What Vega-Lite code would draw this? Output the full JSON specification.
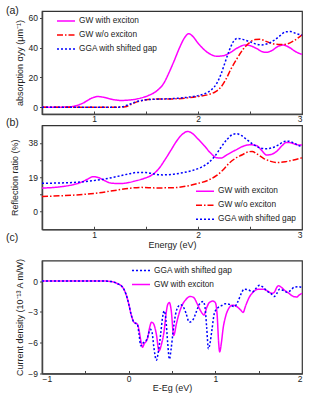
{
  "$schema": "https://vega.github.io/schema/vega-lite/v6.json",
  "background": "white",
  "padding": 5,
  "spacing": -18.75,
  "datasets": {
    "a": [
      {"s":"GW with exciton","E":0.5,"V":0},{"s":"GW with exciton","E":0.7,"V":0.1},{"s":"GW with exciton","E":0.8,"V":0.6},{"s":"GW with exciton","E":0.9,"V":3},{"s":"GW with exciton","E":0.98,"V":6.2},{"s":"GW with exciton","E":1.04,"V":7.2},{"s":"GW with exciton","E":1.1,"V":6.6},{"s":"GW with exciton","E":1.18,"V":5.2},{"s":"GW with exciton","E":1.26,"V":4.6},{"s":"GW with exciton","E":1.36,"V":5},{"s":"GW with exciton","E":1.45,"V":6.2},{"s":"GW with exciton","E":1.52,"V":7.8},{"s":"GW with exciton","E":1.6,"V":10.8},{"s":"GW with exciton","E":1.67,"V":16},{"s":"GW with exciton","E":1.72,"V":23},{"s":"GW with exciton","E":1.77,"V":31},{"s":"GW with exciton","E":1.82,"V":39.5},{"s":"GW with exciton","E":1.87,"V":46.5},{"s":"GW with exciton","E":1.91,"V":49.3},{"s":"GW with exciton","E":1.95,"V":47.5},{"s":"GW with exciton","E":2.0,"V":43},{"s":"GW with exciton","E":2.06,"V":38.5},{"s":"GW with exciton","E":2.12,"V":35.5},{"s":"GW with exciton","E":2.18,"V":34.2},{"s":"GW with exciton","E":2.24,"V":34.5},{"s":"GW with exciton","E":2.3,"V":36.2},{"s":"GW with exciton","E":2.38,"V":39.8},{"s":"GW with exciton","E":2.45,"V":41.7},{"s":"GW with exciton","E":2.5,"V":41.3},{"s":"GW with exciton","E":2.56,"V":39.5},{"s":"GW with exciton","E":2.62,"V":37.2},{"s":"GW with exciton","E":2.66,"V":36.8},{"s":"GW with exciton","E":2.71,"V":38},{"s":"GW with exciton","E":2.77,"V":40.8},{"s":"GW with exciton","E":2.82,"V":41.7},{"s":"GW with exciton","E":2.88,"V":40},{"s":"GW with exciton","E":2.94,"V":37.2},{"s":"GW with exciton","E":3.0,"V":35.5},
      {"s":"GW w/o exciton","E":0.5,"V":0},{"s":"GW w/o exciton","E":1.2,"V":0},{"s":"GW w/o exciton","E":1.3,"V":0.4},{"s":"GW w/o exciton","E":1.36,"V":2},{"s":"GW w/o exciton","E":1.42,"V":3.8},{"s":"GW w/o exciton","E":1.5,"V":5},{"s":"GW w/o exciton","E":1.6,"V":5.5},{"s":"GW w/o exciton","E":1.75,"V":5.6},{"s":"GW w/o exciton","E":1.9,"V":6.3},{"s":"GW w/o exciton","E":2.0,"V":7.2},{"s":"GW w/o exciton","E":2.1,"V":8.5},{"s":"GW w/o exciton","E":2.17,"V":10.5},{"s":"GW w/o exciton","E":2.22,"V":13.5},{"s":"GW w/o exciton","E":2.27,"V":19},{"s":"GW w/o exciton","E":2.32,"V":26},{"s":"GW w/o exciton","E":2.37,"V":32},{"s":"GW w/o exciton","E":2.43,"V":38.5},{"s":"GW w/o exciton","E":2.49,"V":43},{"s":"GW w/o exciton","E":2.55,"V":45.4},{"s":"GW w/o exciton","E":2.6,"V":45.5},{"s":"GW w/o exciton","E":2.66,"V":44},{"s":"GW w/o exciton","E":2.72,"V":42.5},{"s":"GW w/o exciton","E":2.8,"V":42},{"s":"GW w/o exciton","E":2.86,"V":42.5},{"s":"GW w/o exciton","E":2.92,"V":44.5},{"s":"GW w/o exciton","E":3.0,"V":48.5},
      {"s":"GGA with shifted gap","E":0.5,"V":0},{"s":"GGA with shifted gap","E":1.2,"V":0},{"s":"GGA with shifted gap","E":1.27,"V":0.3},{"s":"GGA with shifted gap","E":1.34,"V":2},{"s":"GGA with shifted gap","E":1.42,"V":4},{"s":"GGA with shifted gap","E":1.5,"V":5},{"s":"GGA with shifted gap","E":1.6,"V":5.4},{"s":"GGA with shifted gap","E":1.75,"V":5.8},{"s":"GGA with shifted gap","E":1.9,"V":6.7},{"s":"GGA with shifted gap","E":2.0,"V":7.8},{"s":"GGA with shifted gap","E":2.07,"V":9.2},{"s":"GGA with shifted gap","E":2.13,"V":11.8},{"s":"GGA with shifted gap","E":2.18,"V":16},{"s":"GGA with shifted gap","E":2.22,"V":22},{"s":"GGA with shifted gap","E":2.26,"V":30},{"s":"GGA with shifted gap","E":2.3,"V":38},{"s":"GGA with shifted gap","E":2.34,"V":44},{"s":"GGA with shifted gap","E":2.38,"V":46.2},{"s":"GGA with shifted gap","E":2.43,"V":45.5},{"s":"GGA with shifted gap","E":2.5,"V":43.8},{"s":"GGA with shifted gap","E":2.56,"V":42.3},{"s":"GGA with shifted gap","E":2.61,"V":41.8},{"s":"GGA with shifted gap","E":2.67,"V":42.6},{"s":"GGA with shifted gap","E":2.73,"V":44.8},{"s":"GGA with shifted gap","E":2.79,"V":48},{"s":"GGA with shifted gap","E":2.84,"V":50.5},{"s":"GGA with shifted gap","E":2.89,"V":50.7},{"s":"GGA with shifted gap","E":2.94,"V":49.5},{"s":"GGA with shifted gap","E":3.0,"V":48.3}
    ],
    "b": [
      {"s":"GW with exciton","E":0.5,"V":13},{"s":"GW with exciton","E":0.6,"V":13.3},{"s":"GW with exciton","E":0.7,"V":13.9},{"s":"GW with exciton","E":0.8,"V":14.9},{"s":"GW with exciton","E":0.88,"V":16.3},{"s":"GW with exciton","E":0.94,"V":18},{"s":"GW with exciton","E":0.99,"V":19.3},{"s":"GW with exciton","E":1.04,"V":18.9},{"s":"GW with exciton","E":1.1,"V":17.2},{"s":"GW with exciton","E":1.16,"V":15.8},{"s":"GW with exciton","E":1.24,"V":15.5},{"s":"GW with exciton","E":1.32,"V":15.9},{"s":"GW with exciton","E":1.4,"V":17},{"s":"GW with exciton","E":1.48,"V":18.3},{"s":"GW with exciton","E":1.55,"V":20},{"s":"GW with exciton","E":1.62,"V":23.5},{"s":"GW with exciton","E":1.68,"V":28.5},{"s":"GW with exciton","E":1.74,"V":34},{"s":"GW with exciton","E":1.8,"V":39.5},{"s":"GW with exciton","E":1.86,"V":43.3},{"s":"GW with exciton","E":1.9,"V":44.4},{"s":"GW with exciton","E":1.94,"V":43.5},{"s":"GW with exciton","E":2.0,"V":40.2},{"s":"GW with exciton","E":2.06,"V":36.5},{"s":"GW with exciton","E":2.12,"V":32.5},{"s":"GW with exciton","E":2.18,"V":29.8},{"s":"GW with exciton","E":2.22,"V":29.6},{"s":"GW with exciton","E":2.28,"V":31.5},{"s":"GW with exciton","E":2.36,"V":34},{"s":"GW with exciton","E":2.44,"V":36.3},{"s":"GW with exciton","E":2.5,"V":37},{"s":"GW with exciton","E":2.56,"V":36.6},{"s":"GW with exciton","E":2.61,"V":34},{"s":"GW with exciton","E":2.66,"V":31.3},{"s":"GW with exciton","E":2.7,"V":31.6},{"s":"GW with exciton","E":2.76,"V":33.5},{"s":"GW with exciton","E":2.81,"V":36.6},{"s":"GW with exciton","E":2.85,"V":38.3},{"s":"GW with exciton","E":2.9,"V":38},{"s":"GW with exciton","E":2.95,"V":37},{"s":"GW with exciton","E":3.0,"V":36.8},
      {"s":"GW w/o exciton","E":0.5,"V":8.3},{"s":"GW w/o exciton","E":0.7,"V":8.8},{"s":"GW w/o exciton","E":0.9,"V":9.5},{"s":"GW w/o exciton","E":1.05,"V":10.4},{"s":"GW w/o exciton","E":1.2,"V":11.7},{"s":"GW w/o exciton","E":1.33,"V":12.8},{"s":"GW w/o exciton","E":1.45,"V":13.4},{"s":"GW w/o exciton","E":1.6,"V":13.1},{"s":"GW w/o exciton","E":1.75,"V":13.2},{"s":"GW w/o exciton","E":1.9,"V":14.2},{"s":"GW w/o exciton","E":2.0,"V":15.6},{"s":"GW w/o exciton","E":2.1,"V":17.4},{"s":"GW w/o exciton","E":2.18,"V":20},{"s":"GW w/o exciton","E":2.24,"V":23},{"s":"GW w/o exciton","E":2.3,"V":26.8},{"s":"GW w/o exciton","E":2.36,"V":29.5},{"s":"GW w/o exciton","E":2.42,"V":31.3},{"s":"GW w/o exciton","E":2.48,"V":33},{"s":"GW w/o exciton","E":2.52,"V":33.3},{"s":"GW w/o exciton","E":2.57,"V":31.8},{"s":"GW w/o exciton","E":2.63,"V":29.5},{"s":"GW w/o exciton","E":2.7,"V":27.8},{"s":"GW w/o exciton","E":2.76,"V":27.1},{"s":"GW w/o exciton","E":2.84,"V":27.6},{"s":"GW w/o exciton","E":2.92,"V":28.6},{"s":"GW w/o exciton","E":3.0,"V":29.8},
      {"s":"GGA with shifted gap","E":0.5,"V":15.7},{"s":"GGA with shifted gap","E":0.65,"V":15.8},{"s":"GGA with shifted gap","E":0.8,"V":16.1},{"s":"GGA with shifted gap","E":0.95,"V":16.8},{"s":"GGA with shifted gap","E":1.1,"V":18},{"s":"GGA with shifted gap","E":1.22,"V":19.4},{"s":"GGA with shifted gap","E":1.33,"V":20.8},{"s":"GGA with shifted gap","E":1.42,"V":21.7},{"s":"GGA with shifted gap","E":1.5,"V":21.6},{"s":"GGA with shifted gap","E":1.58,"V":20.8},{"s":"GGA with shifted gap","E":1.66,"V":20.3},{"s":"GGA with shifted gap","E":1.75,"V":20.6},{"s":"GGA with shifted gap","E":1.85,"V":21.5},{"s":"GGA with shifted gap","E":1.95,"V":22.8},{"s":"GGA with shifted gap","E":2.03,"V":24.5},{"s":"GGA with shifted gap","E":2.1,"V":27},{"s":"GGA with shifted gap","E":2.16,"V":30.5},{"s":"GGA with shifted gap","E":2.22,"V":35.5},{"s":"GGA with shifted gap","E":2.28,"V":40},{"s":"GGA with shifted gap","E":2.33,"V":42.6},{"s":"GGA with shifted gap","E":2.37,"V":43.1},{"s":"GGA with shifted gap","E":2.42,"V":42},{"s":"GGA with shifted gap","E":2.47,"V":39.8},{"s":"GGA with shifted gap","E":2.53,"V":37.2},{"s":"GGA with shifted gap","E":2.59,"V":35.4},{"s":"GGA with shifted gap","E":2.65,"V":34.8},{"s":"GGA with shifted gap","E":2.71,"V":35.3},{"s":"GGA with shifted gap","E":2.77,"V":36.8},{"s":"GGA with shifted gap","E":2.83,"V":38.8},{"s":"GGA with shifted gap","E":2.87,"V":39},{"s":"GGA with shifted gap","E":2.92,"V":38},{"s":"GGA with shifted gap","E":2.97,"V":36.5},{"s":"GGA with shifted gap","E":3.0,"V":35.7}
    ],
    "c": [
      {"s":"GW with exciton","E":-1,"V":0},{"s":"GW with exciton","E":-0.3,"V":0},{"s":"GW with exciton","E":-0.2,"V":-0.05},{"s":"GW with exciton","E":-0.13,"V":-0.25},{"s":"GW with exciton","E":-0.07,"V":-0.6},{"s":"GW with exciton","E":-0.03,"V":-1.3},{"s":"GW with exciton","E":0,"V":-2.2},{"s":"GW with exciton","E":0.03,"V":-3.3},{"s":"GW with exciton","E":0.06,"V":-4},{"s":"GW with exciton","E":0.1,"V":-4.2},{"s":"GW with exciton","E":0.12,"V":-4.8},{"s":"GW with exciton","E":0.14,"V":-5.8},{"s":"GW with exciton","E":0.16,"V":-6.45},{"s":"GW with exciton","E":0.18,"V":-6.1},{"s":"GW with exciton","E":0.2,"V":-5.9},{"s":"GW with exciton","E":0.22,"V":-5.5},{"s":"GW with exciton","E":0.24,"V":-4.6},{"s":"GW with exciton","E":0.265,"V":-4.0},{"s":"GW with exciton","E":0.29,"V":-4.2},{"s":"GW with exciton","E":0.32,"V":-5.2},{"s":"GW with exciton","E":0.35,"V":-6.8},{"s":"GW with exciton","E":0.38,"V":-6.1},{"s":"GW with exciton","E":0.41,"V":-4.8},{"s":"GW with exciton","E":0.43,"V":-3.3},{"s":"GW with exciton","E":0.45,"V":-2.3},{"s":"GW with exciton","E":0.47,"V":-2.1},{"s":"GW with exciton","E":0.49,"V":-2.8},{"s":"GW with exciton","E":0.52,"V":-5.3},{"s":"GW with exciton","E":0.55,"V":-4.2},{"s":"GW with exciton","E":0.58,"V":-3.2},{"s":"GW with exciton","E":0.62,"V":-2.3},{"s":"GW with exciton","E":0.66,"V":-1.8},{"s":"GW with exciton","E":0.71,"V":-1.5},{"s":"GW with exciton","E":0.75,"V":-1.6},{"s":"GW with exciton","E":0.79,"V":-2.2},{"s":"GW with exciton","E":0.83,"V":-2.9},{"s":"GW with exciton","E":0.87,"V":-3.3},{"s":"GW with exciton","E":0.9,"V":-2.6},{"s":"GW with exciton","E":0.93,"V":-2.1},{"s":"GW with exciton","E":0.97,"V":-1.95},{"s":"GW with exciton","E":1.0,"V":-2.1},{"s":"GW with exciton","E":1.02,"V":-3.2},{"s":"GW with exciton","E":1.04,"V":-6.2},{"s":"GW with exciton","E":1.05,"V":-6.9},{"s":"GW with exciton","E":1.07,"V":-6},{"s":"GW with exciton","E":1.09,"V":-4.6},{"s":"GW with exciton","E":1.12,"V":-3.4},{"s":"GW with exciton","E":1.16,"V":-2.6},{"s":"GW with exciton","E":1.2,"V":-2.35},{"s":"GW with exciton","E":1.25,"V":-2.5},{"s":"GW with exciton","E":1.29,"V":-2.8},{"s":"GW with exciton","E":1.32,"V":-3.05},{"s":"GW with exciton","E":1.35,"V":-2.4},{"s":"GW with exciton","E":1.39,"V":-1.6},{"s":"GW with exciton","E":1.44,"V":-1.05},{"s":"GW with exciton","E":1.49,"V":-0.8},{"s":"GW with exciton","E":1.55,"V":-0.8},{"s":"GW with exciton","E":1.6,"V":-0.95},{"s":"GW with exciton","E":1.65,"V":-1.2},{"s":"GW with exciton","E":1.68,"V":-1.1},{"s":"GW with exciton","E":1.71,"V":-0.6},{"s":"GW with exciton","E":1.73,"V":-0.45},{"s":"GW with exciton","E":1.76,"V":-0.6},{"s":"GW with exciton","E":1.8,"V":-0.9},{"s":"GW with exciton","E":1.85,"V":-1.2},{"s":"GW with exciton","E":1.9,"V":-1.5},{"s":"GW with exciton","E":1.94,"V":-1.55},{"s":"GW with exciton","E":1.97,"V":-1.35},{"s":"GW with exciton","E":2.0,"V":-1.2},
      {"s":"GGA with shifted gap","E":-1,"V":0},{"s":"GGA with shifted gap","E":-0.3,"V":0},{"s":"GGA with shifted gap","E":-0.2,"V":-0.05},{"s":"GGA with shifted gap","E":-0.13,"V":-0.25},{"s":"GGA with shifted gap","E":-0.07,"V":-0.6},{"s":"GGA with shifted gap","E":-0.03,"V":-1.3},{"s":"GGA with shifted gap","E":0,"V":-2.2},{"s":"GGA with shifted gap","E":0.03,"V":-3.3},{"s":"GGA with shifted gap","E":0.06,"V":-4},{"s":"GGA with shifted gap","E":0.1,"V":-4.2},{"s":"GGA with shifted gap","E":0.12,"V":-5.2},{"s":"GGA with shifted gap","E":0.14,"V":-6.3},{"s":"GGA with shifted gap","E":0.16,"V":-6.1},{"s":"GGA with shifted gap","E":0.18,"V":-5.9},{"s":"GGA with shifted gap","E":0.21,"V":-5.7},{"s":"GGA with shifted gap","E":0.23,"V":-5.1},{"s":"GGA with shifted gap","E":0.25,"V":-4.7},{"s":"GGA with shifted gap","E":0.27,"V":-5.0},{"s":"GGA with shifted gap","E":0.29,"V":-6.4},{"s":"GGA with shifted gap","E":0.32,"V":-7.7},{"s":"GGA with shifted gap","E":0.34,"V":-7.0},{"s":"GGA with shifted gap","E":0.37,"V":-5.1},{"s":"GGA with shifted gap","E":0.39,"V":-3.6},{"s":"GGA with shifted gap","E":0.41,"V":-2.9},{"s":"GGA with shifted gap","E":0.43,"V":-3.8},{"s":"GGA with shifted gap","E":0.45,"V":-6.0},{"s":"GGA with shifted gap","E":0.47,"V":-7.6},{"s":"GGA with shifted gap","E":0.49,"V":-6.6},{"s":"GGA with shifted gap","E":0.51,"V":-5.1},{"s":"GGA with shifted gap","E":0.54,"V":-3.3},{"s":"GGA with shifted gap","E":0.57,"V":-2.5},{"s":"GGA with shifted gap","E":0.6,"V":-2.3},{"s":"GGA with shifted gap","E":0.63,"V":-2.5},{"s":"GGA with shifted gap","E":0.66,"V":-3.1},{"s":"GGA with shifted gap","E":0.7,"V":-4.0},{"s":"GGA with shifted gap","E":0.74,"V":-3.8},{"s":"GGA with shifted gap","E":0.78,"V":-3.0},{"s":"GGA with shifted gap","E":0.82,"V":-2.2},{"s":"GGA with shifted gap","E":0.86,"V":-2.0},{"s":"GGA with shifted gap","E":0.88,"V":-2.5},{"s":"GGA with shifted gap","E":0.9,"V":-4.5},{"s":"GGA with shifted gap","E":0.92,"V":-6.6},{"s":"GGA with shifted gap","E":0.94,"V":-6.0},{"s":"GGA with shifted gap","E":0.96,"V":-4.8},{"s":"GGA with shifted gap","E":0.99,"V":-3.1},{"s":"GGA with shifted gap","E":1.03,"V":-2.6},{"s":"GGA with shifted gap","E":1.07,"V":-2.4},{"s":"GGA with shifted gap","E":1.12,"V":-2.2},{"s":"GGA with shifted gap","E":1.17,"V":-2.3},{"s":"GGA with shifted gap","E":1.22,"V":-2.5},{"s":"GGA with shifted gap","E":1.26,"V":-2.0},{"s":"GGA with shifted gap","E":1.3,"V":-1.2},{"s":"GGA with shifted gap","E":1.33,"V":-0.8},{"s":"GGA with shifted gap","E":1.38,"V":-0.85},{"s":"GGA with shifted gap","E":1.43,"V":-1.05},{"s":"GGA with shifted gap","E":1.47,"V":-0.7},{"s":"GGA with shifted gap","E":1.51,"V":-0.4},{"s":"GGA with shifted gap","E":1.55,"V":-0.6},{"s":"GGA with shifted gap","E":1.6,"V":-1.0},{"s":"GGA with shifted gap","E":1.64,"V":-1.2},{"s":"GGA with shifted gap","E":1.68,"V":-1.5},{"s":"GGA with shifted gap","E":1.71,"V":-1.2},{"s":"GGA with shifted gap","E":1.74,"V":-0.8},{"s":"GGA with shifted gap","E":1.78,"V":-0.9},{"s":"GGA with shifted gap","E":1.83,"V":-1.1},{"s":"GGA with shifted gap","E":1.87,"V":-0.9},{"s":"GGA with shifted gap","E":1.91,"V":-0.6},{"s":"GGA with shifted gap","E":1.96,"V":-0.55},{"s":"GGA with shifted gap","E":2.0,"V":-0.65}
    ]
  },
  "vconcat": [
    {
      "width": 260,
      "height": 103,
      "title": {"text": "(a)", "offset": -5.25},
      "data": {"name": "a"},
      "mark": {"type": "line", "interpolate": "monotone", "strokeWidth": 1.5},
      "encoding": {
        "x": {"field": "E", "type": "quantitative", "scale": {"domain": [0.5, 3], "nice": false},
          "axis": {"title": null, "values": [1, 1.5, 2, 2.5, 3], "labelExpr": "datum.value % 1 ? '' : format(datum.value, 'd')", "tickSize": -3, "labelPadding": 3}},
        "y": {"field": "V", "type": "quantitative", "scale": {"domain": [-4.5, 64.5], "nice": false, "zero": false},
          "axis": {"title": "absorption αyy (μm⁻¹)", "values": [0, 20, 40, 60], "tickSize": 2.5, "titlePadding": 4}},
        "color": {"field": "s", "type": "nominal",
          "scale": {"domain": ["GW with exciton", "GW w/o exciton", "GGA with shifted gap"], "range": ["#FF00FF", "#FF0000", "#0000FF"]},
          "legend": {"title": null, "orient": "none", "legendX": 14, "legendY": 0, "rowPadding": -2}},
        "strokeDash": {"field": "s", "type": "nominal",
          "scale": {"domain": ["GW with exciton", "GW w/o exciton", "GGA with shifted gap"], "range": [[1, 0], [6, 2, 1.5, 2], [2, 2]]},
          "legend": {"title": null, "orient": "none", "legendX": 14, "legendY": 0, "rowPadding": -2}}
      }
    },
    {
      "width": 260,
      "height": 104,
      "title": {"text": ["", "(b)"], "lineHeight": 11.5, "offset": -3.5},
      "data": {"name": "b"},
      "mark": {"type": "line", "interpolate": "monotone", "strokeWidth": 1.5},
      "encoding": {
        "x": {"field": "E", "type": "quantitative", "scale": {"domain": [0.5, 3], "nice": false},
          "axis": {"title": "Energy (eV)", "values": [1, 1.5, 2, 2.5, 3], "labelExpr": "datum.value % 1 ? '' : format(datum.value, 'd')", "tickSize": -3, "labelPadding": 4, "titlePadding": 1.5}},
        "y": {"field": "V", "type": "quantitative", "scale": {"domain": [-9.8, 47.8], "nice": false, "zero": false},
          "axis": {"title": "Reflection ratio (%)", "values": [0, 9.5, 19, 28.5, 38], "labelExpr": "datum.value % 19 ? '' : format(datum.value, 'd')", "tickSize": 2.5, "titlePadding": 9}},
        "color": {"field": "s", "type": "nominal",
          "scale": {"domain": ["GW with exciton", "GW w/o exciton", "GGA with shifted gap"], "range": ["#FF00FF", "#FF0000", "#0000FF"]},
          "legend": {"title": null, "orient": "none", "legendX": 153, "legendY": 56, "rowPadding": -1.5}},
        "strokeDash": {"field": "s", "type": "nominal",
          "scale": {"domain": ["GW with exciton", "GW w/o exciton", "GGA with shifted gap"], "range": [[1, 0], [6, 2, 1.5, 2], [2, 2]]},
          "legend": {"title": null, "orient": "none", "legendX": 153, "legendY": 56, "rowPadding": -1.5}}
      }
    },
    {
      "width": 260,
      "height": 113,
      "title": {"text": "(c)", "offset": 14.45},
      "data": {"name": "c"},
      "mark": {"type": "line", "interpolate": "monotone", "strokeWidth": 1.5},
      "encoding": {
        "x": {"field": "E", "type": "quantitative", "scale": {"domain": [-1, 2], "nice": false},
          "axis": {"title": "E-Eg (eV)", "values": [-1, -0.5, 0, 0.5, 1, 1.5, 2], "labelExpr": "datum.value % 1 ? '' : format(datum.value, 'd')", "tickSize": -3, "labelPadding": 4, "titlePadding": 0}},
        "y": {"field": "V", "type": "quantitative", "scale": {"domain": [-9, 2], "nice": false, "zero": false},
          "axis": {"title": "Current density (10⁻¹³ A m/W)", "values": [-9, -6, -3, 0], "tickSize": 2.5, "titlePadding": 3}},
        "color": {"field": "s", "type": "nominal",
          "scale": {"domain": ["GGA with shifted gap", "GW with exciton"], "range": ["#0000FF", "#FF00FF"]},
          "legend": {"title": null, "orient": "none", "legendX": 89, "legendY": 0, "rowPadding": -3}},
        "strokeDash": {"field": "s", "type": "nominal",
          "scale": {"domain": ["GGA with shifted gap", "GW with exciton"], "range": [[2, 2], [1, 0]]},
          "legend": {"title": null, "orient": "none", "legendX": 89, "legendY": 0, "rowPadding": -3}}
      }
    }
  ],
  "resolve": {"scale": {"color": "independent", "strokeDash": "independent"}},
  "config": {
    "font": "Liberation Sans",
    "view": {"stroke": "#333", "strokeWidth": 1.2},
    "axis": {"grid": false, "domainColor": "#444", "domainWidth": 1.5, "tickColor": "#444", "labelFontSize": 8.5, "labelColor": "#222", "titleFontSize": 9, "titleFontWeight": "normal", "titleColor": "#222", "labelFont": "Liberation Sans", "titleFont": "Liberation Sans"},
    "legend": {"symbolType": "stroke", "symbolSize": 324, "symbolStrokeWidth": 1.5, "labelFontSize": 8.3, "labelFont": "Liberation Sans", "labelColor": "#222", "labelOffset": 3, "padding": 0},
    "title": {"anchor": "start", "frame": "group", "fontSize": 10.5, "fontWeight": "normal", "font": "Liberation Sans", "dx": -36, "color": "#222"}
  }
}
